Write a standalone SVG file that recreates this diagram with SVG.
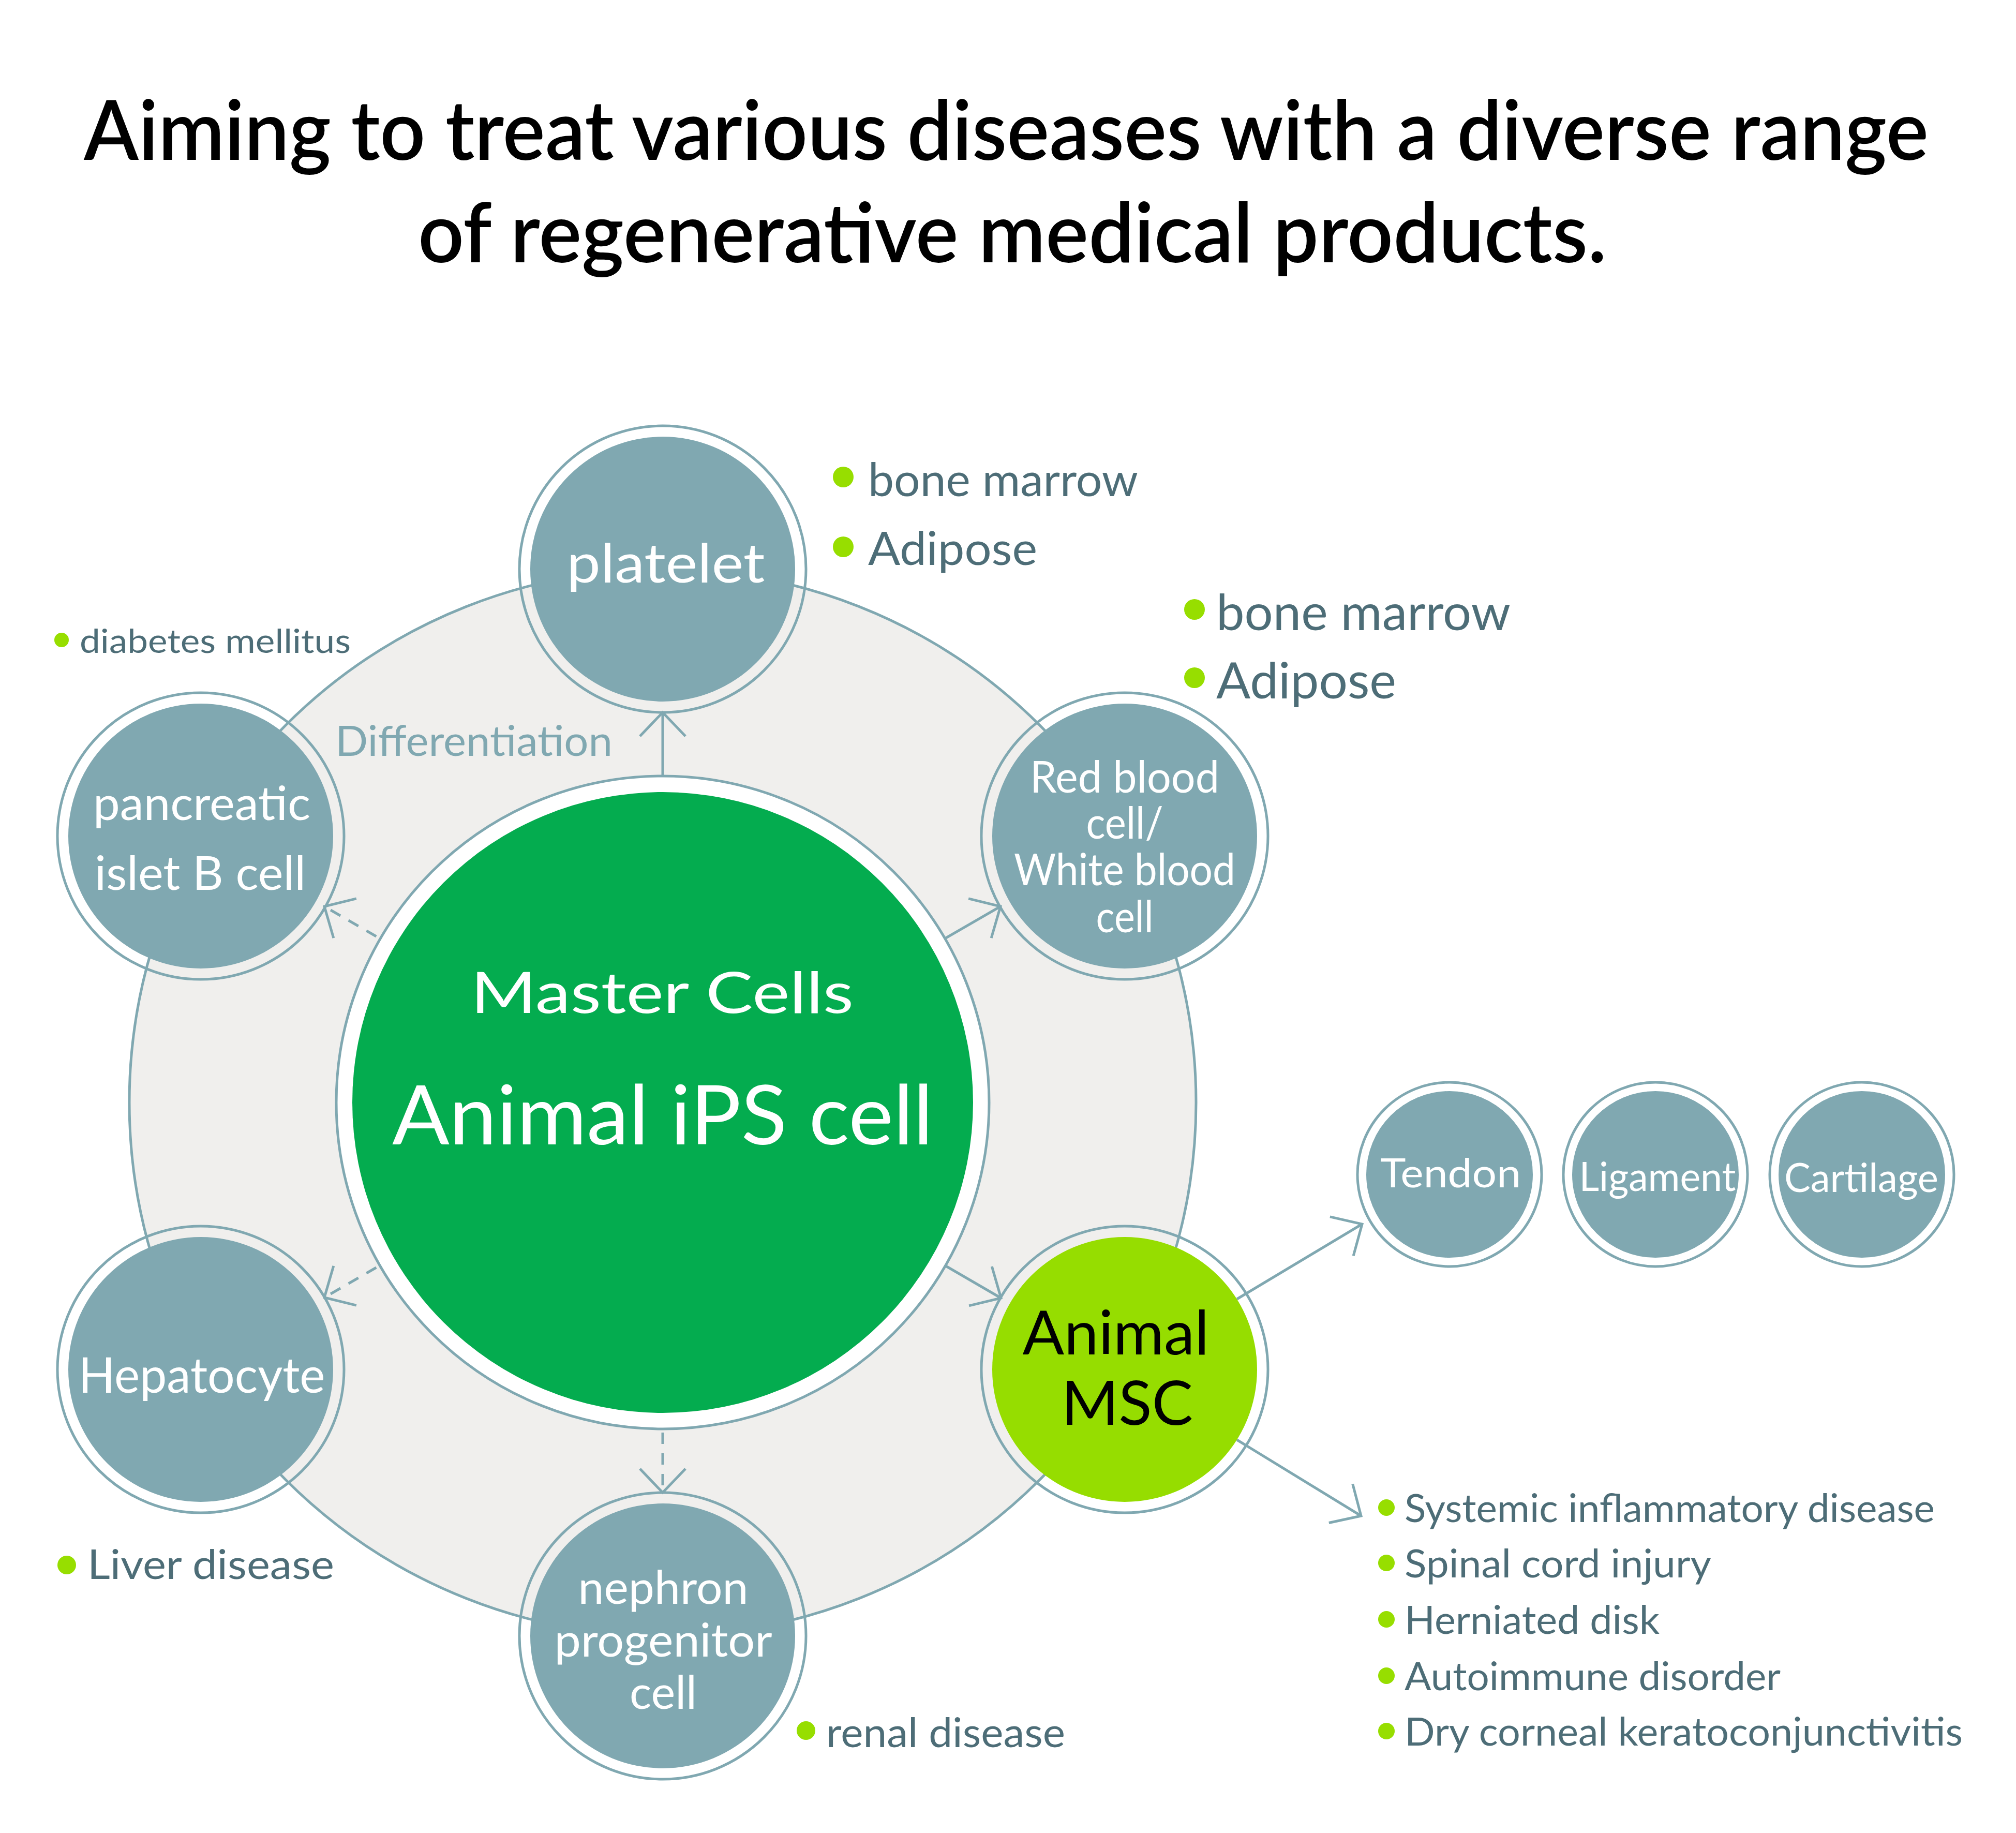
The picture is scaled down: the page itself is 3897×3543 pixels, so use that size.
<svg xmlns="http://www.w3.org/2000/svg" width="3897" height="3543" viewBox="0 0 3897 3543">
<style>
text{font-family:Lato,"Noto Sans","Liberation Sans",sans-serif}
.title{font-size:160px;font-weight:600;fill:#000;text-anchor:middle}
.wt{fill:#fff;text-anchor:middle}
.lbl{fill:#4D6D77}
.bul{fill:#97DE00}
.outer{fill:none;stroke:#80A8B1;stroke-width:5}
.inner{fill:#80A8B1}
.conn{fill:none;stroke:#80A8B1;stroke-width:5}
.dash{stroke-dasharray:22 18}
</style>
<defs>
<marker id="ah" markerUnits="userSpaceOnUse" orient="auto" markerWidth="120" markerHeight="120" refX="0" refY="0" viewBox="-60 -60 120 120" overflow="visible">
<path d="M-46,-44 L0,0 L-46,44" fill="none" stroke="#80A8B1" stroke-width="5"/>
</marker>
</defs>
<rect width="3897" height="3543" fill="#fff"/>
<g id="title">
<text class="title" x="1945" y="309" textLength="3566" lengthAdjust="spacingAndGlyphs">Aiming to treat various diseases with a diverse range</text>
<text class="title" x="1957" y="507" textLength="2298" lengthAdjust="spacingAndGlyphs">of regenerative medical products.</text>
</g>
<g id="ring">
<circle cx="1281" cy="2131" r="1031" fill="#F0EFED" stroke="#80A8B1" stroke-width="5"/>
</g>
<g id="connectors">
<line class="conn" x1="1281" y1="1531" x2="1281" y2="1377" marker-end="url(#ah)"/>
<line class="conn" x1="1799" y1="1830" x2="1934" y2="1752" marker-end="url(#ah)"/>
<line class="conn" x1="1799" y1="2430" x2="1935" y2="2509" marker-end="url(#ah)"/>
<line class="conn dash" x1="1281" y1="2729" x2="1281" y2="2885" marker-end="url(#ah)"/>
<line class="conn dash" x1="762" y1="2430" x2="627" y2="2508" marker-end="url(#ah)"/>
<line class="conn dash" x1="762" y1="1830" x2="627" y2="1752" marker-end="url(#ah)"/>
<line class="conn" x1="2391" y1="2511" x2="2633" y2="2366" marker-end="url(#ah)"/>
<line class="conn" x1="2391" y1="2783" x2="2631" y2="2930" marker-end="url(#ah)"/>
</g>
<g id="center-node">
<circle cx="1281" cy="2131" r="631" fill="#fff" stroke="#80A8B1" stroke-width="5"/>
<circle cx="1281" cy="2131" r="600" fill="#04AC4F"/>
<text class="wt" x="1280" y="1958" font-size="110" textLength="740" lengthAdjust="spacingAndGlyphs">Master Cells</text>
<text class="wt" x="1281" y="2212" font-size="160" textLength="1046" lengthAdjust="spacingAndGlyphs">Animal iPS cell</text>
</g>
<g id="platelet">
<circle class="outer" cx="1281" cy="1100" r="277"/>
<circle class="inner" cx="1281" cy="1100" r="256"/>
<text class="wt" x="1287" y="1126" font-size="105" textLength="383" lengthAdjust="spacingAndGlyphs">platelet</text>
</g>
<g id="rbc">
<circle class="outer" cx="2174" cy="1616" r="277"/>
<circle class="inner" cx="2174" cy="1616" r="256"/>
<text class="wt" font-size="85"><tspan x="2174" y="1532" textLength="366" lengthAdjust="spacingAndGlyphs">Red blood</tspan><tspan x="2174" y="1621" textLength="149" lengthAdjust="spacingAndGlyphs">cell/</tspan><tspan x="2174" y="1711" textLength="428" lengthAdjust="spacingAndGlyphs">White blood</tspan><tspan x="2174" y="1802" textLength="111" lengthAdjust="spacingAndGlyphs">cell</tspan></text>
</g>
<g id="msc">
<circle class="outer" cx="2174" cy="2647" r="277"/>
<circle cx="2174" cy="2647" r="256" fill="#96DD00"/>
<text x="2157" y="2618" font-size="118" fill="#000" text-anchor="middle" textLength="361" lengthAdjust="spacingAndGlyphs">Animal</text>
<text x="2179" y="2754" font-size="118" fill="#000" text-anchor="middle" textLength="254" lengthAdjust="spacingAndGlyphs">MSC</text>
</g>
<g id="nephron">
<circle class="outer" cx="1281" cy="3162" r="277"/>
<circle class="inner" cx="1281" cy="3162" r="256"/>
<text class="wt" font-size="90"><tspan x="1282" y="3100" textLength="329" lengthAdjust="spacingAndGlyphs">nephron</tspan><tspan x="1282" y="3202" textLength="421" lengthAdjust="spacingAndGlyphs">progenitor</tspan><tspan x="1282" y="3303" textLength="130" lengthAdjust="spacingAndGlyphs">cell</tspan></text>
</g>
<g id="hepatocyte">
<circle class="outer" cx="388" cy="2647" r="277"/>
<circle class="inner" cx="388" cy="2647" r="256"/>
<text class="wt" x="390" y="2692" font-size="95" textLength="477" lengthAdjust="spacingAndGlyphs">Hepatocyte</text>
</g>
<g id="pancreatic">
<circle class="outer" cx="388" cy="1616" r="277"/>
<circle class="inner" cx="388" cy="1616" r="256"/>
<text class="wt" font-size="92"><tspan x="390" y="1585" textLength="420" lengthAdjust="spacingAndGlyphs">pancreatic</tspan><tspan x="387" y="1720" textLength="408" lengthAdjust="spacingAndGlyphs">islet B cell</tspan></text>
</g>
<g id="tendon">
<circle class="outer" cx="2802" cy="2270" r="178"/>
<circle class="inner" cx="2802" cy="2270" r="161"/>
<text class="wt" x="2804" y="2295" font-size="78" textLength="272" lengthAdjust="spacingAndGlyphs">Tendon</text>
</g>
<g id="ligament">
<circle class="outer" cx="3200" cy="2270" r="178"/>
<circle class="inner" cx="3200" cy="2270" r="161"/>
<text class="wt" x="3204" y="2302" font-size="78" textLength="303" lengthAdjust="spacingAndGlyphs">Ligament</text>
</g>
<g id="cartilage">
<circle class="outer" cx="3599" cy="2270" r="178"/>
<circle class="inner" cx="3599" cy="2270" r="161"/>
<text class="wt" x="3598" y="2304" font-size="78" textLength="298" lengthAdjust="spacingAndGlyphs">Cartilage</text>
</g>
<g id="label-differentiation">
<text x="648" y="1461" font-size="82" fill="#80A8B1" textLength="536" lengthAdjust="spacingAndGlyphs">Differentiation</text>
</g>
<g id="labels-platelet">
<circle class="bul" cx="1630" cy="922" r="20"/>
<text class="lbl" x="1678" y="959" font-size="90" textLength="522" lengthAdjust="spacingAndGlyphs">bone marrow</text>
<circle class="bul" cx="1630" cy="1057" r="20"/>
<text class="lbl" x="1678" y="1092" font-size="90" textLength="327" lengthAdjust="spacingAndGlyphs">Adipose</text>
</g>
<g id="labels-rbc">
<circle class="bul" cx="2309" cy="1178" r="20"/>
<text class="lbl" x="2351" y="1218" font-size="96" textLength="569" lengthAdjust="spacingAndGlyphs">bone marrow</text>
<circle class="bul" cx="2309" cy="1310" r="20"/>
<text class="lbl" x="2351" y="1350" font-size="96" textLength="348" lengthAdjust="spacingAndGlyphs">Adipose</text>
</g>
<g id="labels-pancreatic">
<circle class="bul" cx="119" cy="1237" r="14"/>
<text class="lbl" x="154" y="1262" font-size="64" textLength="524" lengthAdjust="spacingAndGlyphs">diabetes mellitus</text>
</g>
<g id="labels-hepatocyte">
<circle class="bul" cx="129" cy="3025" r="18"/>
<text class="lbl" x="169" y="3052" font-size="80" textLength="477" lengthAdjust="spacingAndGlyphs">Liver disease</text>
</g>
<g id="labels-nephron">
<circle class="bul" cx="1558" cy="3345" r="18"/>
<text class="lbl" x="1597" y="3377" font-size="80" textLength="462" lengthAdjust="spacingAndGlyphs">renal disease</text>
</g>
<g id="labels-msc">
<circle class="bul" cx="2680" cy="2914" r="16"/>
<text class="lbl" x="2715" y="2942" font-size="76" textLength="1025" lengthAdjust="spacingAndGlyphs">Systemic inflammatory disease</text>
<circle class="bul" cx="2680" cy="3021" r="16"/>
<text class="lbl" x="2715" y="3049" font-size="76" textLength="593" lengthAdjust="spacingAndGlyphs">Spinal cord injury</text>
<circle class="bul" cx="2680" cy="3130" r="16"/>
<text class="lbl" x="2715" y="3158" font-size="76" textLength="493" lengthAdjust="spacingAndGlyphs">Herniated disk</text>
<circle class="bul" cx="2680" cy="3239" r="16"/>
<text class="lbl" x="2715" y="3267" font-size="76" textLength="727" lengthAdjust="spacingAndGlyphs">Autoimmune disorder</text>
<circle class="bul" cx="2680" cy="3346" r="16"/>
<text class="lbl" x="2715" y="3374" font-size="76" textLength="1079" lengthAdjust="spacingAndGlyphs">Dry corneal keratoconjunctivitis</text>
</g>
</svg>
